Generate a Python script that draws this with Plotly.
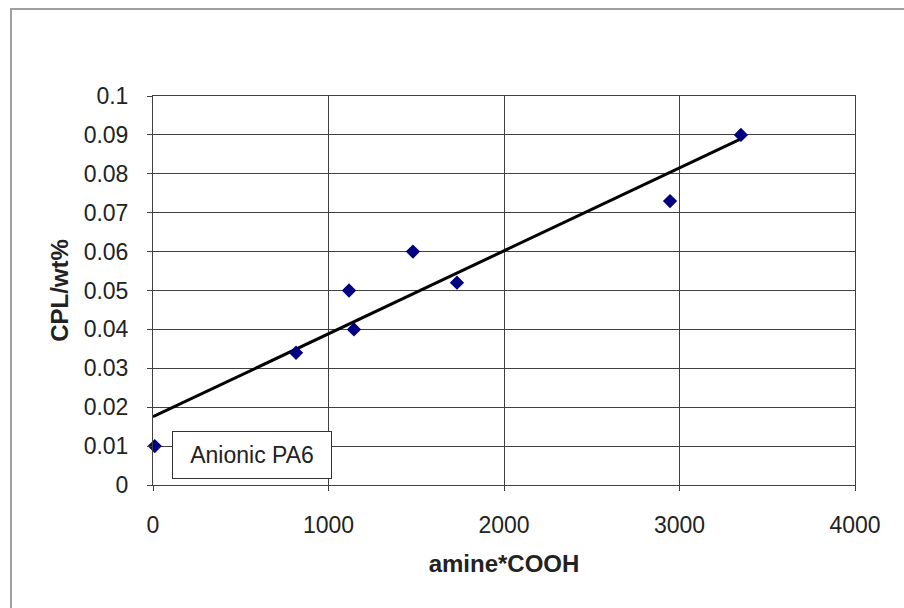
import numpy as np
import plotly.graph_objects as go

amine_cooh = [10, 815, 1117, 1145, 1481, 1732, 2946, 3350]
cpl_wt = [0.010, 0.034, 0.050, 0.040, 0.060, 0.052, 0.073, 0.090]
x_ticks = [0, 1000, 2000, 3000, 4000]
y_ticks = [0, 0.01, 0.02, 0.03, 0.04, 0.05, 0.06, 0.07, 0.08, 0.09, 0.1]
y_tick_text = ["0", "0.01", "0.02", "0.03", "0.04", "0.05", "0.06", "0.07", "0.08", "0.09", "0.1"]
label_text = "Anionic PA6"

slope, intercept = np.polyfit(amine_cooh, cpl_wt, 1)
trend_x = [0, max(amine_cooh)]
trend_y = [intercept + slope * v for v in trend_x]

W, H = 904, 608
L, R, T, B = 153, 855, 96, 485

fig = go.Figure()
fig.add_trace(go.Scatter(x=trend_x, y=trend_y, mode="lines",
                         line=dict(color="black", width=3), showlegend=False))
fig.add_trace(go.Scatter(x=amine_cooh, y=cpl_wt, mode="markers",
                         marker=dict(symbol="diamond", size=11, color="#000080"),
                         showlegend=False, cliponaxis=False))

fig.add_annotation(x=amine_cooh[0], y=cpl_wt[0], text=label_text, showarrow=False,
                   xanchor="left", yanchor="middle", xshift=17, yshift=-9,
                   width=142, height=30, align="center",
                   font=dict(family="Arial, Liberation Sans", size=23, color="#222"),
                   bordercolor="#333", borderwidth=1, borderpad=8, bgcolor="white")

def px_x(p):
    return (p - L) / (R - L)

def px_y(p):
    return (B - p) / (B - T)

fig.add_shape(type="rect", xref="paper", yref="paper",
              x0=px_x(11), x1=px_x(920), y0=px_y(9), y1=px_y(620),
              line=dict(color="#a0a0a0", width=2), fillcolor="rgba(0,0,0,0)", layer="below")

tick_font = dict(family="Arial, Liberation Sans", size=23, color="#222")
title_font = dict(family="Arial, Liberation Sans", size=24, color="#222")
fig.update_xaxes(range=[0, 4000], tickvals=x_ticks, showgrid=True, gridcolor="#404040", gridwidth=1,
                 showline=True, linecolor="#404040", linewidth=1, mirror=True,
                 ticks="outside", ticklen=5, tickcolor="#404040", zeroline=False,
                 tickfont=tick_font, ticklabelstandoff=14,
                 title=dict(text="<b>amine*COOH</b>", font=title_font, standoff=18))
fig.update_yaxes(range=[0, 0.1], tickvals=y_ticks, ticktext=y_tick_text, showgrid=True,
                 gridcolor="#404040", gridwidth=1,
                 showline=True, linecolor="#404040", linewidth=1, mirror=True,
                 ticks="outside", ticklen=5, tickcolor="#404040", zeroline=False,
                 tickfont=tick_font, ticklabelstandoff=14,
                 title=dict(text="<b>CPL/wt%</b>", font=title_font, standoff=8))

fig.update_layout(width=W, height=H, margin=dict(l=L, r=W - R, t=T, b=H - B),
                  paper_bgcolor="white", plot_bgcolor="white")

fig.write_html("out.html")
